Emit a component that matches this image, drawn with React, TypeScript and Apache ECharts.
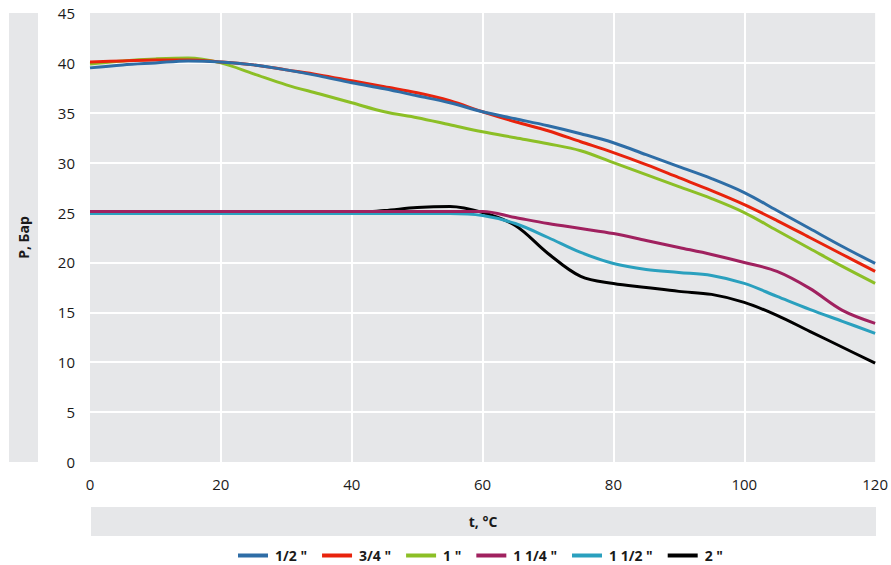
import React, { useEffect, useRef } from "react";
import * as echarts from "echarts";

const temperatures = [0, 5, 10, 15, 20, 25, 30, 35, 40, 45, 50, 55, 60, 65, 70, 75, 80, 85, 90, 95, 100, 105, 110, 115, 120];
const seriesNames = ['1/2 "', '3/4 "', '1 "', '1 1/4 "', '1 1/2 "', '2 "'];
const seriesColors = ["#2e6da6", "#e8230c", "#8cbf26", "#a0215f", "#2aa0be", "#000000"];
const p12 = [39.5, 39.8, 40.0, 40.2, 40.1, 39.8, 39.3, 38.7, 38.0, 37.4, 36.7, 36.0, 35.1, 34.4, 33.7, 32.9, 32.0, 30.8, 29.6, 28.4, 27.0, 25.2, 23.4, 21.6, 19.9];
const p34 = [40.1, 40.2, 40.3, 40.3, 40.1, 39.8, 39.3, 38.8, 38.2, 37.6, 37.0, 36.2, 35.1, 34.1, 33.2, 32.1, 31.0, 29.8, 28.5, 27.2, 25.8, 24.2, 22.5, 20.8, 19.1];
const p1 = [39.9, 40.2, 40.4, 40.5, 40.0, 38.9, 37.8, 36.9, 36.0, 35.1, 34.5, 33.8, 33.1, 32.5, 31.9, 31.2, 30.0, 28.8, 27.6, 26.4, 25.0, 23.2, 21.4, 19.6, 17.9];
const p114 = [25.1, 25.1, 25.1, 25.1, 25.1, 25.1, 25.1, 25.1, 25.1, 25.1, 25.1, 25.1, 25.1, 24.5, 23.9, 23.4, 22.9, 22.2, 21.5, 20.8, 20.0, 19.1, 17.4, 15.2, 13.9];
const p112 = [24.9, 24.9, 24.9, 24.9, 24.9, 24.9, 24.9, 24.9, 24.9, 24.9, 24.9, 24.9, 24.7, 23.9, 22.5, 21.0, 19.9, 19.3, 19.0, 18.7, 17.9, 16.6, 15.3, 14.1, 12.9];
const p2 = [25.0, 25.0, 25.0, 25.0, 25.0, 25.0, 25.0, 25.0, 25.0, 25.2, 25.5, 25.6, 25.0, 23.7, 20.9, 18.6, 17.9, 17.5, 17.1, 16.8, 16.0, 14.7, 13.1, 11.5, 9.9];
const allValues = [p12, p34, p1, p114, p112, p2];

const yLabel = "P, Бар";
const xLabel = "t, °C";
const FONT = "'Open Sans', 'Noto Sans', sans-serif";

export default function App() {
  const ref = useRef<HTMLDivElement>(null);
  useEffect(() => {
    if (!ref.current) return;
    const chart = echarts.init(ref.current, undefined, { renderer: "svg" });
    const gridLeft = 90;
    const gridRight = 15;
    const gridTop = 13;
    const gridBottom = 103;
    const W = 891;
    const H = 565;
    chart.setOption({
      animation: false,
      backgroundColor: "#ffffff",
      textStyle: { fontFamily: FONT },
      grid: {
        left: gridLeft,
        right: gridRight,
        top: gridTop,
        bottom: gridBottom,
        show: true,
        backgroundColor: "#e6e7e9",
        borderWidth: 0,
      },
      xAxis: {
        type: "value",
        min: 0,
        max: 120,
        interval: 20,
        axisLine: { show: false },
        axisTick: { show: false },
        axisLabel: { color: "#1a1a1a", fontSize: 15, margin: 14, fontFamily: FONT },
        splitLine: { show: true, showMinLine: false, showMaxLine: false, lineStyle: { color: "#ffffff", width: 2 } },
      },
      yAxis: {
        type: "value",
        min: 0,
        max: 45,
        interval: 5,
        axisLine: { show: false },
        axisTick: { show: false },
        axisLabel: { color: "#1a1a1a", fontSize: 15, margin: 15, fontFamily: FONT },
        splitLine: { show: true, showMinLine: false, showMaxLine: false, lineStyle: { color: "#ffffff", width: 2 } },
      },
      legend: {
        top: 548,
        left: 238,
        padding: 0,
        itemWidth: 30,
        itemHeight: 4,
        itemGap: 15,
        icon: "rect",
        textStyle: { fontSize: 14, lineHeight: 15, fontWeight: "bold", color: "#1a1a1a", fontFamily: FONT, padding: [0, 0, 0, 2] },
        data: seriesNames,
      },
      graphic: [
        { type: "rect", left: 9, top: gridTop, shape: { width: 29, height: H - gridTop - gridBottom }, style: { fill: "#e6e7e9" }, silent: true },
        {
          type: "text",
          x: 23.5,
          y: (gridTop + H - gridBottom) / 2,
          rotation: Math.PI / 2,
          style: { text: yLabel, fill: "#1a1a1a", font: `bold 14px ${FONT}`, align: "center", verticalAlign: "middle" },
          silent: true,
        },
        { type: "rect", left: gridLeft + 1, top: 507, shape: { width: W - gridLeft - gridRight - 1, height: 29 }, style: { fill: "#e6e7e9" }, silent: true },
        {
          type: "text",
          x: (gridLeft + W - gridRight) / 2,
          y: 521.5,
          style: { text: xLabel, fill: "#1a1a1a", font: `bold 14px ${FONT}`, align: "center", verticalAlign: "middle" },
          silent: true,
        },
      ],
      series: seriesNames.map((name, i) => ({
        name,
        type: "line",
        data: temperatures.map((t, j) => [t, allValues[i][j]]),
        smooth: 0.35,
        showSymbol: false,
        symbol: "none",
        color: seriesColors[i],
        lineStyle: { width: 3, color: seriesColors[i] },
        z: 10 - i,
      })),
    });
    return () => chart.dispose();
  }, []);
  return <div ref={ref} style={{ width: 891, height: 565, position: "absolute", left: 0, top: 0 }} />;
}
